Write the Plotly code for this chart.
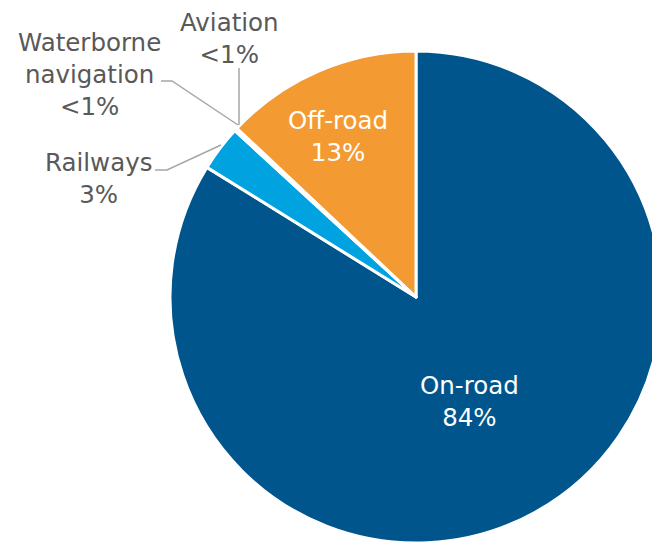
import plotly.graph_objects as go

categories = ["On-road", "Railways", "Waterborne navigation", "Aviation", "Off-road"]
values = [84, 3, 0.1, 0.1, 13]
pct_labels = ["84%", "3%", "<1%", "<1%", "13%"]
colors = ["#00558C", "#00A3E0", "#00558C", "#00558C", "#F39A33"]

W, H = 660, 543
OFF = 8  # page body margin
FONT = "DejaVu Sans"
GRAY = "#595959"

def px(x, y):
    return (x - OFF) / W, 1 - (y - OFF) / H

def clamp(v):
    return max(0.0, min(1.0, v))

# pie geometry (page pixels): centre (416, 297), radius ~245
cx, cy, r = 416 - OFF, 297 - OFF, 246
fig = go.Figure(go.Pie(
    labels=categories,
    values=values,
    sort=False,
    direction="clockwise",
    rotation=0,
    marker=dict(colors=colors, line=dict(color="white", width=3)),
    textinfo="none",
    domain=dict(x=[clamp((cx - r) / W), clamp((cx + r) / W)],
                y=[clamp(1 - (cy + r) / H), clamp(1 - (cy - r) / H)]),
    showlegend=False,
    hoverinfo="label+value",
))

# label placement (page pixels)
label_layout = {
    "On-road": dict(pos=(469, 401), color="white"),
    "Off-road": dict(pos=(338, 137), color="white"),
    "Aviation": dict(pos=(229, 39), color=GRAY, line=[(239, 125), (239, 68)]),
    "Waterborne navigation": dict(pos=(89, 74), color=GRAY, text="Waterborne<br>navigation",
                                  line=[(238, 125), (172, 81), (161, 81)]),
    "Railways": dict(pos=(98, 179), color=GRAY, line=[(221, 145), (167, 170), (155, 170)]),
}
annotations = []
shapes = []
for cat, pct in zip(categories, pct_labels):
    o = label_layout[cat]
    name = o.get("text", cat)
    x, y = px(*o["pos"])
    annotations.append(dict(x=x, y=y, xref="paper", yref="paper", text=f"{name}<br>{pct}",
                            showarrow=False, font=dict(size=24.5, color=o["color"], family=FONT),
                            align="center", xanchor="center", yanchor="middle"))
    if "line" in o:
        path = "M " + " L ".join(f"{px(a, b)[0]},{px(a, b)[1]}" for a, b in o["line"])
        shapes.append(dict(type="path", path=path, xref="paper", yref="paper",
                           line=dict(color="#A6A6A6", width=1.5)))

fig.update_layout(
    width=W, height=H,
    margin=dict(l=0, r=0, t=0, b=0),
    paper_bgcolor="white",
    plot_bgcolor="white",
    annotations=annotations,
    shapes=shapes,
    font=dict(family=FONT, color=GRAY),
)
fig.write_html("out.html")
